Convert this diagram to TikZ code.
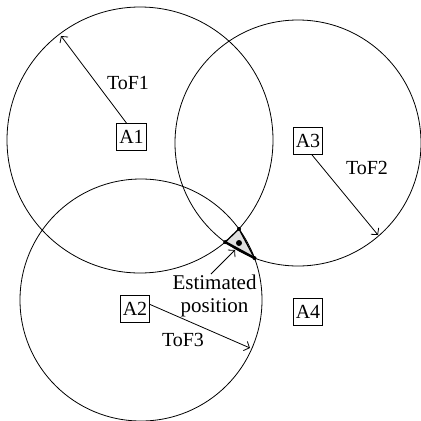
\documentclass[tikz,border=0pt]{standalone}
\usepackage{fontspec}
\setmainfont{Liberation Serif}
\usetikzlibrary{arrows.meta}
\begin{document}
\begin{tikzpicture}[x=1pt,y=-1pt,
  circ/.style={line width=0.8pt},
  abox/.style={draw,line width=0.8pt,inner xsep=2.5pt,inner ysep=0pt,minimum height=27pt,text height=13pt,text depth=0pt,font=\fontsize{20}{23}\selectfont},
  lbl/.style={inner sep=0pt,font=\fontsize{20}{23}\selectfont},
  tof/.style={line width=0.8pt,-{Straight Barb[length=4.5pt,width=10pt,line width=0.8pt]}},
  vdot/.style={circle,fill=black,inner sep=0pt,minimum size=4pt}]
\useasboundingbox (0,0) rectangle (421,421);
% circles
\draw[circ] (140,140) circle[radius=133];
\draw[circ] (141,300) circle[radius=121];
\draw[circ] (298,143) circle[radius=123];
% triangle of intersection points
\coordinate (p12) at (239.0,228.9);
\coordinate (p13) at (225.2,242.1);
\coordinate (p23) at (254.5,258.1);
\fill[black!12] (p12) -- (p13) -- (p23) -- cycle;
\draw[line width=1.3pt,line join=round] (p13) -- (p12) -- (p23);
\draw[line width=2.4pt,line cap=round] (p13) -- (p23);
\node[vdot] (d12) at (p12) {};
\node[vdot] (d13) at (p13) {};
\node[vdot] (d23) at (p23) {};
\node[circle,fill=black,inner sep=0pt,minimum size=6pt] (est) at (239,243) {};
% boxes
\node[abox] (A1) at (131.5,137) {A1};
\node[abox] (A3) at (308,141) {A3};
\node[abox] (A2) at (135,308.5) {A2};
\node[abox] (A4) at (308,311.5) {A4};
% arrow ends
\coordinate (t1) at (61,36);
\coordinate (t2) at (378,235);
\coordinate (t3) at (250,348);
\coordinate (te) at (235,250);
\draw[tof] ([xshift=-5pt]A1.north) -- (t1);
\draw[tof] ([xshift=4pt]A3.south) -- (t2);
\draw[tof] ([yshift=4pt]A2.east) -- (t3);
% labels
\node[lbl] (l1) at (128,83.4) {ToF1};
\node[lbl] (l2) at (367,168.4) {ToF2};
\node[lbl] (l3) at (183,340) {ToF3};
\node[lbl,align=center,font=\fontsize{21}{23}\selectfont] (le) at (214.5,295.8) {Estimated\\position};
\coordinate (es) at (211,274);
\draw[tof] (es) -- (te);
\end{tikzpicture}
\end{document}
